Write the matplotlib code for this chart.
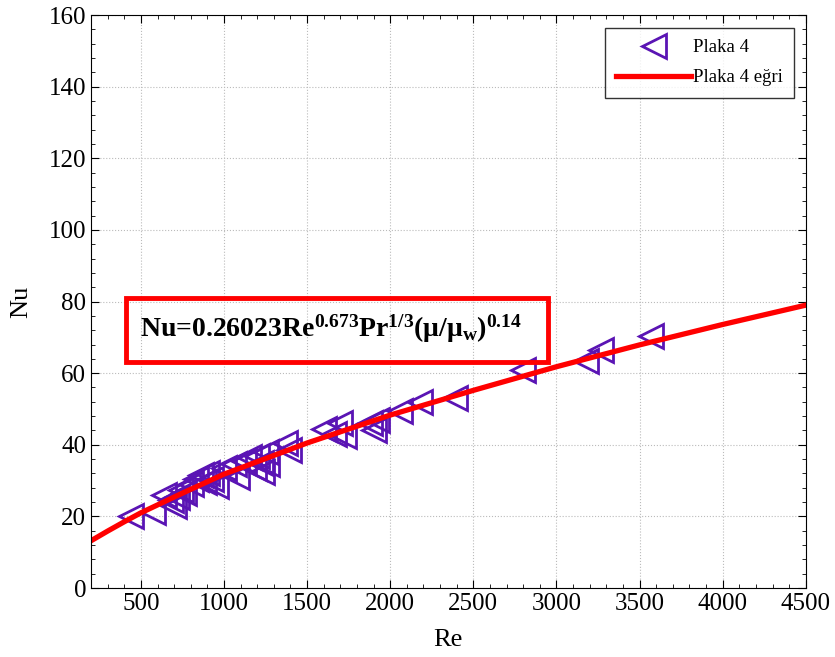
import numpy as np
import matplotlib.pyplot as plt
from matplotlib.patches import Rectangle
from matplotlib.ticker import MultipleLocator

plt.rcParams['font.family'] = ['Liberation Serif', 'DejaVu Serif']
plt.rcParams['mathtext.fontset'] = 'custom'
plt.rcParams['mathtext.rm'] = 'Liberation Serif:bold'
plt.rcParams['mathtext.it'] = 'Liberation Serif:bold'
plt.rcParams['mathtext.bf'] = 'Liberation Serif:bold'

# measured points, plaka 4
re_data = [440, 570, 640, 680, 700, 720, 740, 760, 800, 830, 860, 880, 900, 920, 950,
           1000, 1060, 1080, 1120, 1150, 1180, 1200, 1220, 1230, 1250, 1260, 1370, 1390,
           1600, 1660, 1700, 1720, 1880, 1900, 1920, 2060, 2180, 2390, 2800, 3180, 3270, 3570]
nu_data = [20.0, 21.3, 26.0, 24.5, 23.0, 25.5, 27.5, 26.5, 29.0, 30.5, 31.5, 29.5, 32.0, 30.5, 28.5,
           33.5, 34.5, 31.0, 35.5, 36.5, 33.5, 37.0, 35.0, 32.5, 38.0, 34.5, 40.5, 38.5,
           44.5, 43.0, 46.0, 42.5, 46.0, 44.0, 47.0, 49.5, 52.0, 53.0, 61.0, 63.5, 66.5, 70.5]

# fitted curve
re_fit = [200, 300, 400, 500, 750, 1000, 1500, 2000, 2500, 3000, 3500, 4000, 4500]
nu_fit = [13.2, 15.9, 18.5, 21.0, 26.5, 31.8, 40.5, 48.3, 55.2, 61.8, 67.9, 73.6, 79.0]

fig = plt.figure(figsize=(8.35, 6.57), dpi=100)
ax = fig.add_axes([0.109, 0.105, 0.856, 0.872])

ax.plot(re_data, nu_data, linestyle='none', marker='<', markersize=17,
        markerfacecolor='none', markeredgecolor='#5a14b4', markeredgewidth=2, label='Plaka 4')
ax.plot(re_fit, nu_fit, color='red', linewidth=3.8, label='Plaka 4 eğri')

ax.set_xlim(200, 4500)
ax.set_ylim(0, 160)
ax.xaxis.set_major_locator(MultipleLocator(500))
ax.xaxis.set_minor_locator(MultipleLocator(100))
ax.yaxis.set_major_locator(MultipleLocator(20))
ax.yaxis.set_minor_locator(MultipleLocator(4))
ax.tick_params(which='both', direction='in', top=True, right=True, labelsize=18)
ax.tick_params(which='major', length=6)
ax.tick_params(which='minor', length=3)
ax.grid(True, linestyle=':', color='#bbbbbb', linewidth=0.8)
ax.set_xlabel('Re', fontsize=19, labelpad=10)
ax.set_ylabel('Nu', fontsize=19, labelpad=12)

ax.add_patch(Rectangle((0.049, 0.394), 0.59, 0.112, transform=ax.transAxes,
                       fill=False, edgecolor='red', linewidth=3.5, zorder=5))
ax.text(0.068, 0.452, 'Nu=0.26023Re$^{0.673}$Pr$^{1/3}$(μ/μ$_w$)$^{0.14}$',
        transform=ax.transAxes, fontsize=20, fontweight='bold',
        va='center', ha='left', zorder=6)

leg = ax.legend(loc='upper right', bbox_to_anchor=(0.984, 0.978), fontsize=13.5,
                handlelength=4.0, frameon=True, fancybox=False, edgecolor='black',
                borderpad=0.6, labelspacing=0.7, handletextpad=0.1, borderaxespad=0)
leg.get_frame().set_linewidth(1.0)

fig.savefig('out.png', dpi=100)
